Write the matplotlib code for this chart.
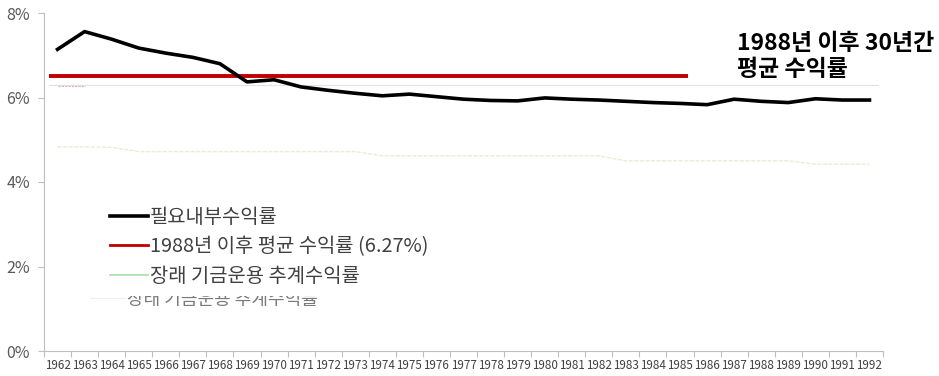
import numpy as np
import matplotlib
matplotlib.use("Agg")
from matplotlib import pyplot as plt
from matplotlib.lines import Line2D
from matplotlib.transforms import Bbox

plt.rcParams['font.family'] = ['Noto Sans CJK KR', 'DejaVu Sans']

years = [str(y) for y in range(1962, 1993)]

# 필요내부수익률 (%)
irr = [7.14, 7.56, 7.38, 7.17, 7.05, 6.95, 6.80, 6.37, 6.42, 6.25,
       6.17, 6.10, 6.04, 6.08, 6.02, 5.96, 5.93, 5.92, 5.99, 5.96,
       5.94, 5.91, 5.88, 5.86, 5.83, 5.96, 5.91, 5.88, 5.97, 5.94, 5.94]

# 장래 기금운용 추계수익률 (%)
future = [4.83, 4.83, 4.82, 4.72, 4.72, 4.72, 4.72, 4.72, 4.72, 4.72,
          4.72, 4.72, 4.62, 4.62, 4.62, 4.62, 4.62, 4.62, 4.62, 4.62,
          4.62, 4.50, 4.50, 4.50, 4.50, 4.50, 4.50, 4.50, 4.42, 4.42, 4.42]

avg_label = 6.27      # value in legend
avg_drawn = 6.52      # thick red bar drawn over the chart
avg_orig = 6.30       # faint original line

x = np.arange(len(years))

fig = plt.figure(figsize=(9.39, 3.76), dpi=100)
ax = fig.add_axes([44/939, 1-351/376, (883-44)/939, (351-13)/376])

ax.plot([-0.3, 30.3], [avg_orig, avg_orig], color='#e2e2e2', lw=0.8, zorder=1)
ax.plot([0, 1.0], [6.28, 6.28], color='#e8b0b0', lw=0.8, ls=(0, (2, 1)), zorder=1)
ax.plot(x, future, color='#ecebd6', lw=1.0, ls=(0, (3, 1)), zorder=2)
ax.plot([-0.3, 23.3], [avg_drawn, avg_drawn], color='#c00000', lw=2.8,
        solid_capstyle='butt', zorder=3)
ax.plot(x, irr, color='black', lw=2.6, zorder=4)

ax.set_xlim(-0.5, len(years) - 0.5)
ax.set_ylim(0, 8)
ax.set_yticks([0, 2, 4, 6, 8])
ax.set_yticklabels(['0%', '2%', '4%', '6%', '8%'])
ax.set_xticks(np.arange(-0.5, len(years), 1.0))
ax.set_xticklabels([])
ax.set_xticks(x, minor=True)
ax.set_xticklabels(years, minor=True)
ax.tick_params(axis='x', which='major', length=4, color='#bfbfbf', width=0.8)
ax.tick_params(axis='x', which='minor', length=0, labelsize=8.4,
               labelcolor='#404040', pad=6)
ax.tick_params(axis='y', length=4, color='#bfbfbf', width=0.8,
               labelsize=11.5, labelcolor='#595959', pad=6)
for s in ['top', 'right']:
    ax.spines[s].set_visible(False)
for s in ['left', 'bottom']:
    ax.spines[s].set_color('#bfbfbf')
    ax.spines[s].set_linewidth(0.8)

handles = [Line2D([], [], color='black', lw=2.6),
           Line2D([], [], color='#c00000', lw=2.0),
           Line2D([], [], color='#a6dba0', lw=1.1)]
labels = ['필요내부수익률', '1988년 이후 평균 수익률 (%.2f%%)' % avg_label,
          '장래 기금운용 추계수익률']
leg = fig.legend(handles, labels, loc='upper left',
                 bbox_to_anchor=(110/939, 1-207/376), frameon=False,
                 fontsize=14.3, handlelength=1.9, handletextpad=0.1,
                 labelspacing=0.42, borderaxespad=0, borderpad=0)
for t in leg.get_texts():
    t.set_color('#404040')

# faint, half-cut copy of the last legend label
ghost = fig.text(127/939, 1-300/376, '장래 기금운용 추계수익률', fontsize=13,
                 color='#7a7a7a', va='center', ha='left')
ghost.set_clip_box(Bbox.from_extents(0, 0, 939, 376-296))
fig.lines.append(Line2D([90/939, 125/939], [1-298/376, 1-298/376],
                        transform=fig.transFigure, color='#f0f0f0', lw=0.8))

fig.text(737/939, 1-43/376, '1988년 이후 30년간', fontsize=16.5,
         fontweight='bold', color='black', va='center', ha='left')
fig.text(737/939, 1-69/376, '평균 수익률', fontsize=16.5,
         fontweight='bold', color='black', va='center', ha='left')

fig.savefig('out.png', dpi=100)
